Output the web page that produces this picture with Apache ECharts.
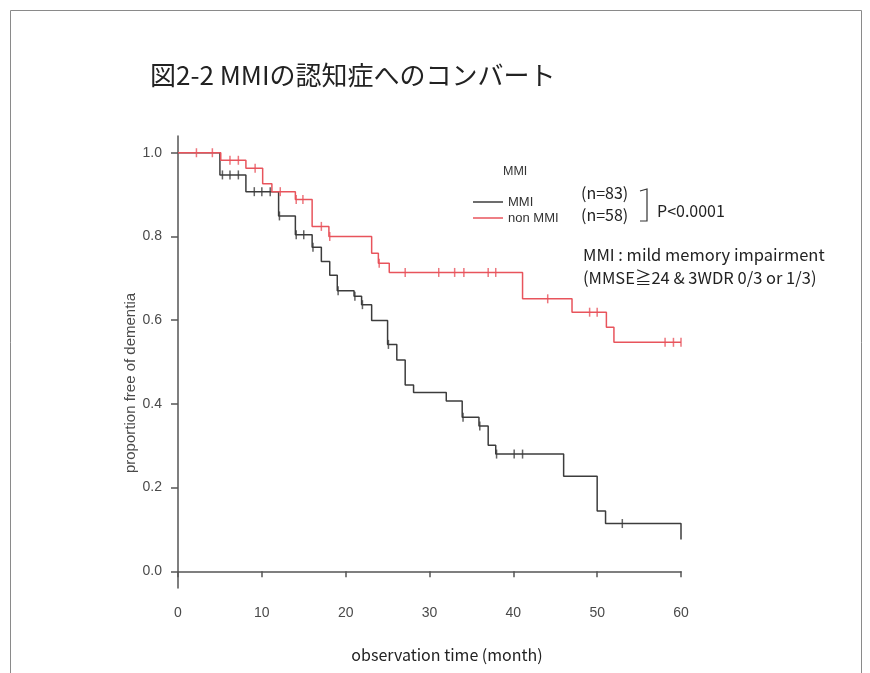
<!DOCTYPE html>
<html>
<head>
<meta charset="utf-8">
<script src="https://cdn.jsdelivr.net/npm/echarts@6/dist/echarts.min.js"></script>
<style>
html,body{margin:0;padding:0;background:#fff;}
#chart{width:870px;height:673px;}
</style>
</head>
<body>
<div id="chart"></div>
<script>
// ---- data ----
const titleText = '図2-2 MMIの認知症へのコンバート';
const xTicks = [0, 10, 20, 30, 40, 50, 60];
const yTicks = [0, 0.2, 0.4, 0.6, 0.8, 1.0];

// MMI group (black): event times and survival after each time
const mmiTimes  = [0, 5.0, 8.1, 12.0, 14.0, 16.0, 17.1, 18.1, 19.0, 21.0, 21.9, 23.1, 25.0, 26.1, 27.1, 28.1, 32.0, 33.9, 35.9, 37.0, 37.9, 46.0, 50.0, 51.0, 60.0];
const mmiValues = [1.0, 0.947, 0.907, 0.849, 0.804, 0.774, 0.740, 0.707, 0.670, 0.657, 0.637, 0.599, 0.542, 0.505, 0.445, 0.427, 0.407, 0.368, 0.347, 0.301, 0.280, 0.227, 0.144, 0.114, 0.076];
const mmiCensor = [5.3, 6.2, 7.2, 9.1, 10.0, 11.0, 12.1, 14.1, 15.0, 16.1, 19.1, 21.1, 22.0, 25.1, 34.0, 36.0, 38.0, 40.1, 41.1, 53.0];

// non MMI group (red)
const nonTimes  = [0, 5.1, 8.1, 10.1, 11.2, 14.0, 16.0, 18.0, 23.1, 23.9, 25.2, 41.1, 47.0, 51.1, 52.0, 60.0];
const nonValues = [1.0, 0.982, 0.963, 0.926, 0.907, 0.888, 0.824, 0.800, 0.760, 0.736, 0.714, 0.651, 0.619, 0.583, 0.547, 0.547];
const nonCensor = [2.2, 4.1, 6.2, 7.2, 9.2, 12.2, 14.1, 14.9, 17.1, 18.1, 24.0, 27.1, 31.1, 33.0, 34.1, 37.0, 37.9, 44.1, 49.1, 50.0, 58.1, 59.1, 60.0];

const seriesNames = ['MMI', 'non MMI'];
const nLabels = ['(n=83)', '(n=58)'];
const pText = 'P<0.0001';
const noteLines = ['MMI : mild memory impairment', '(MMSE≧24 & 3WDR 0/3 or 1/3)'];

// ---- helpers ----
function zip(t, v) { return t.map((x, i) => [x, v[i]]); }
function levelAt(times, values, t) {
  let v = values[0];
  for (let i = 0; i < times.length; i++) if (times[i] <= t) v = values[i];
  return v;
}
function censorPts(times, values, cs) { return cs.map(t => [t, levelAt(times, values, t)]); }

const BLACK = '#3c3c3c';
const RED = '#e8545c';
const AXIS = '#555';
const LATIN = 'Liberation Sans, Arial, sans-serif';
const JP = '"Noto Sans CJK JP", "Noto Sans", sans-serif';

const chart = echarts.init(document.getElementById('chart'), null, {renderer: 'canvas'});
chart.setOption({
  animation: false,
  backgroundColor: '#fff',
  grid: {left: 178, right: 189, top: 136, bottom: 85, containLabel: false},
  xAxis: {
    type: 'value', min: 0, max: 60, interval: 10,
    axisLine: {show: true, lineStyle: {color: AXIS, width: 1.5}},
    axisTick: {show: true, length: 6, lineStyle: {color: AXIS, width: 1.5}},
    axisLabel: {margin: 18, color: '#4a4a4a', fontSize: 14, fontFamily: LATIN,
      formatter: v => xTicks.includes(v) ? String(v) : ''},
    splitLine: {show: false}
  },
  yAxis: {
    type: 'value', min: -0.04, max: 1.04,
    axisLine: {show: true, lineStyle: {color: AXIS, width: 1.5}},
    axisTick: {show: true, length: 7, customValues: yTicks, lineStyle: {color: AXIS, width: 1.5}},
    axisLabel: {margin: 16, color: '#4a4a4a', fontSize: 14, fontFamily: LATIN, customValues: yTicks,
      formatter: v => Number(v).toFixed(1)},
    splitLine: {show: false}
  },
  legend: {
    data: seriesNames,
    orient: 'vertical', left: 468, top: 190,
    itemWidth: 30, itemHeight: 1.5, itemGap: 2, icon: 'rect',
    textStyle: {fontSize: 13, color: '#333', fontFamily: LATIN, lineHeight: 14},
    selectedMode: false
  },
  series: [
    {name: seriesNames[0], type: 'line', step: 'end', showSymbol: false, silent: true,
     data: zip(mmiTimes, mmiValues), lineStyle: {color: BLACK, width: 1.5}, itemStyle: {color: BLACK}, z: 2},
    {name: seriesNames[1], type: 'line', step: 'end', showSymbol: false, silent: true,
     data: zip(nonTimes, nonValues), lineStyle: {color: RED, width: 1.5}, itemStyle: {color: RED}, z: 3},
    {name: 'MMI censored', type: 'scatter', symbol: 'rect', symbolSize: [1.5, 9], silent: true,
     data: censorPts(mmiTimes, mmiValues, mmiCensor), itemStyle: {color: BLACK}, z: 4},
    {name: 'non MMI censored', type: 'scatter', symbol: 'rect', symbolSize: [1.5, 9], silent: true,
     data: censorPts(nonTimes, nonValues, nonCensor), itemStyle: {color: RED}, z: 5}
  ],
  graphic: [
    {type: 'rect', shape: {x: 10.5, y: 10.5, width: 851, height: 700}, style: {fill: 'none', stroke: '#8a8a8a', lineWidth: 1}, silent: true},
    {type: 'text', x: 150, y: 75, style: {text: titleText, font: '26px ' + JP, fill: '#222', verticalAlign: 'middle'}},
    {type: 'text', x: 503, y: 172, style: {text: 'MMI', font: '12.5px ' + LATIN, fill: '#333', verticalAlign: 'middle'}},
    {type: 'text', x: 581, y: 193, style: {text: nLabels[0], font: '16px ' + JP, fill: '#222', verticalAlign: 'middle'}},
    {type: 'text', x: 581, y: 215, style: {text: nLabels[1], font: '16px ' + JP, fill: '#222', verticalAlign: 'middle'}},
    {type: 'polyline', shape: {points: [[640, 191], [647, 189], [647, 221], [640, 221]]}, style: {stroke: '#333', lineWidth: 1.2, fill: 'none'}},
    {type: 'text', x: 657, y: 211, style: {text: pText, font: '16px ' + JP, fill: '#222', verticalAlign: 'middle'}},
    {type: 'text', x: 583, y: 255, style: {text: noteLines[0], font: '16.5px ' + JP, fill: '#222', verticalAlign: 'middle'}},
    {type: 'text', x: 583, y: 278, style: {text: noteLines[1], font: '16.5px ' + JP, fill: '#222', verticalAlign: 'middle'}},
    {type: 'text', x: 447, y: 655, style: {text: 'observation time (month)', font: '16px ' + JP, fill: '#222', align: 'center', verticalAlign: 'middle'}},
    {type: 'text', x: 131, y: 383, rotation: Math.PI / 2, style: {text: 'proportion free of dementia', font: '15px ' + LATIN, fill: '#4a4a4a', align: 'center', verticalAlign: 'middle'}}
  ]
});
</script>
</body>
</html>
